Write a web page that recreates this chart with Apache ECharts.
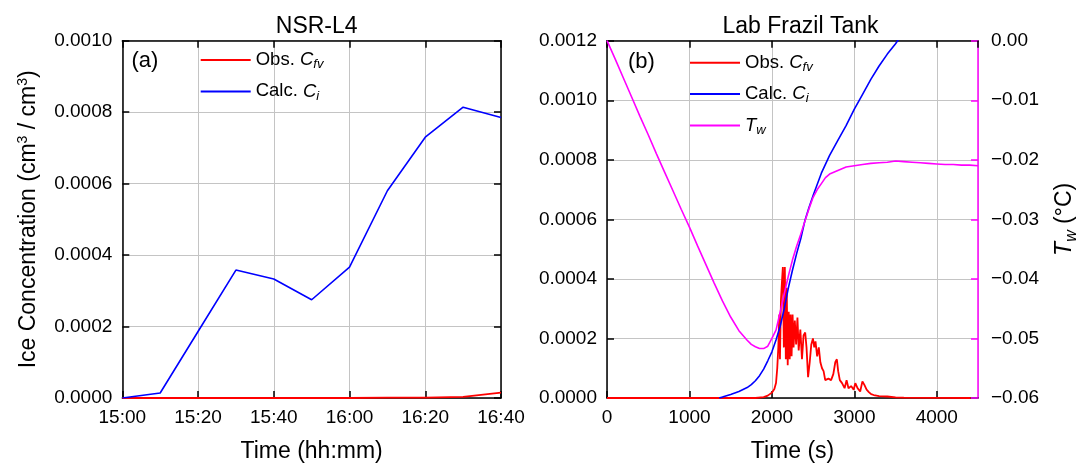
<!DOCTYPE html>
<html><head><meta charset="utf-8">
<script src="https://cdn.jsdelivr.net/npm/echarts@6/dist/echarts.min.js"></script>
<style>html,body{margin:0;padding:0;background:#fff}#c{width:1081px;height:468px}</style>
</head><body><div id="c"></div>
<script>
// ---------- Data: panel (a) NSR-L4 ----------
const leftTimes = ['15:00','15:10','15:20','15:30','15:40','15:50','16:00','16:10','16:20','16:30','16:40'];
const leftCalcCi = [0, 0.000014, 0.000186, 0.000358, 0.000333, 0.000275, 0.000366, 0.00058, 0.00073, 0.000814, 0.000785];
const leftObsCfv = [0, 0, 0, 0, 0, 0, 0, 0.000001, 0.000001, 0.000003, 0.000015];
const leftTickLabels = ['15:00','15:20','15:40','16:00','16:20','16:40'];

// ---------- Data: panel (b) Lab Frazil Tank ----------
const obsT = [0,1800,1900,1950,2000,2030,2050,2065,2078,2090,2098,2110,2122,2133,2145,2157,2169,2180,2192,2204,2216,2227,2239,2251,2263,2278,2294,2310,2325,2345,2365,2384,2404,2420,2439,2459,2478,2498,2514,2529,2549,2569,2588,2608,2627,2647,2667,2686,2718,2745,2769,2788,2804,2824,2851,2882,2906,2929,2961,2992,3012,3039,3071,3098,3122,3149,3176,3204,3235,3300,3400,3500,3600,4410];
const obsCfv = [0,0,0.000003,0.000008,0.000018,0.00003,0.00005,0.0001,0.00017,0.00028,0.00013,0.00033,0.00039,0.00044,0.00017,0.00044,0.00013,0.00037,0.00011,0.00029,0.00013,0.00028,0.00014,0.00028,0.00017,0.00026,0.00018,0.00027,0.00016,0.00023,0.00013,0.00021,0.00022,0.00017,0.00007,0.00012,0.00018,0.0002,0.00017,0.00019,0.00014,0.00017,0.00012,0.0001,0.00009,0.00006,0.000055,0.000065,0.00006,0.00008,0.00012,0.00013,0.00009,0.00006,0.00005,0.000033,0.00006,0.000033,0.00004,0.000028,0.00005,0.000033,0.000022,0.000056,0.000044,0.000028,0.00002,0.000013,0.00001,0.000006,0.000005,0.000002,0.000001,0];
const calcT = [1360,1400,1500,1600,1700,1750,1800,1850,1900,1950,2000,2050,2100,2150,2200,2250,2300,2350,2400,2450,2500,2600,2700,2800,2900,3000,3100,3200,3300,3400,3500,3600];
const calcCi = [0,0.000003,0.000012,0.000022,0.000035,0.000045,0.000058,0.000075,0.000097,0.000125,0.000155,0.000195,0.00024,0.0003,0.00037,0.00043,0.000485,0.000535,0.000595,0.00064,0.00068,0.000755,0.000815,0.000865,0.000915,0.00097,0.00102,0.00107,0.001115,0.001155,0.00119,0.00123];
const twT = [0,100,200,300,400,500,600,700,800,900,1000,1100,1200,1300,1400,1500,1600,1700,1750,1800,1850,1900,1950,2000,2050,2100,2150,2200,2250,2300,2350,2400,2450,2500,2550,2600,2650,2700,2800,2900,3000,3100,3200,3300,3400,3500,3600,3700,3800,3900,4000,4100,4200,4300,4400,4500];
const twVal = [0,-0.0031,-0.0063,-0.0095,-0.0127,-0.0158,-0.019,-0.0221,-0.0252,-0.0283,-0.0313,-0.0345,-0.0376,-0.0407,-0.0437,-0.0464,-0.0487,-0.0503,-0.051,-0.0514,-0.0517,-0.0517,-0.0513,-0.05,-0.0486,-0.0456,-0.0425,-0.0395,-0.0368,-0.0345,-0.0325,-0.0303,-0.0282,-0.0263,-0.025,-0.024,-0.023,-0.0224,-0.0218,-0.0212,-0.021,-0.0208,-0.0206,-0.0205,-0.0204,-0.0202,-0.0203,-0.0204,-0.0205,-0.0206,-0.0207,-0.0208,-0.0208,-0.0209,-0.0209,-0.021];

// ---------- helpers ----------
const FONT = "'Liberation Sans', Arial, sans-serif";
const toMin = s => { const [h, m] = s.split(':').map(Number); return (h - 15) * 60 + m; };
const pairs = (xs, ys) => xs.map((x, i) => [x, ys[i]]);
const RED = '#ff0000', BLUE = '#0000ff', MAG = '#ff00ff';
const GRID_COLOR = '#c4c4c4';

const richLegend = {
  n: { fontSize: 18.5, fontFamily: FONT, color: '#000' },
  i: { fontSize: 18.5, fontFamily: FONT, fontStyle: 'italic', color: '#000' },
  s: { fontSize: 13, fontFamily: FONT, fontStyle: 'italic', color: '#000', padding: [9, 0, 0, 0] }
};
const legendLabels = {
  'Obs. Cfv (a)': '{n|Obs. }{i|C}{s|fv}',
  'Calc. Ci (a)': '{n|Calc. }{i|C}{s|i}',
  'Obs. Cfv (b)': '{n|Obs. }{i|C}{s|fv}',
  'Calc. Ci (b)': '{n|Calc. }{i|C}{s|i}',
  'Tw (b)': '{i|T}{s|w}'
};

const tickStyle = { show: true, inside: true, length: 7, lineStyle: { color: '#000', width: 1.5 } };
const lineStyleAxis = { show: true, onZero: false, lineStyle: { color: '#000', width: 1.5 } };
const labelStyle = { fontSize: 19, fontFamily: FONT, color: '#000' };

const chart = echarts.init(document.getElementById('c'), null, { renderer: 'canvas' });
chart.setOption({
  animation: false,
  backgroundColor: '#fff',
  title: [
    { text: 'NSR-L4', left: 311.7, top: 10, textAlign: 'center', textStyle: { fontSize: 23, fontWeight: 'normal', fontFamily: FONT, color: '#000' } },
    { text: 'Lab Frazil Tank', left: 795.5, top: 10, textAlign: 'center', textStyle: { fontSize: 23, fontWeight: 'normal', fontFamily: FONT, color: '#000' } }
  ],
  grid: [
    { left: 122.3, top: 40.7, width: 378.7, height: 360, containLabel: false },
    { left: 607, top: 40.7, width: 377, height: 360, containLabel: false }
  ],
  legend: [
    { orient: 'vertical', left: 200.7, top: 49, padding: 0, itemWidth: 50, itemHeight: 2, itemGap: 9.4, icon: 'rect',
      data: ['Obs. Cfv (a)', 'Calc. Ci (a)'], formatter: n => legendLabels[n],
      textStyle: { rich: richLegend, lineHeight: 22 }, selectedMode: false },
    { orient: 'vertical', left: 690, top: 51.7, padding: 0, itemWidth: 50, itemHeight: 2, itemGap: 9.4, icon: 'rect',
      data: ['Obs. Cfv (b)', 'Calc. Ci (b)', 'Tw (b)'], formatter: n => legendLabels[n],
      textStyle: { rich: richLegend, lineHeight: 22 }, selectedMode: false }
  ],
  graphic: [
    { type: 'text', left: 131.5, top: 50, style: { text: '(a)', font: "22px 'Liberation Sans', Arial", fill: '#000' } },
    { type: 'text', left: 628, top: 51, style: { text: '(b)', font: "22px 'Liberation Sans', Arial", fill: '#000' } }
  ],
  xAxis: [
    { gridIndex: 0, type: 'value', min: 0, max: 100, interval: 20, position: 'bottom',
      axisLine: lineStyleAxis, axisTick: tickStyle,
      axisLabel: { ...labelStyle, margin: 10, formatter: v => leftTickLabels[Math.round(v / 20)] },
      splitLine: { show: true, lineStyle: { color: GRID_COLOR, width: 1 } },
      name: 'Time (hh:mm)', nameLocation: 'middle', nameGap: 42,
      nameTextStyle: { fontSize: 23, fontFamily: FONT, color: '#000' } },
    { gridIndex: 0, type: 'value', min: 0, max: 100, interval: 20, position: 'top',
      axisLine: lineStyleAxis, axisTick: tickStyle, axisLabel: { show: false }, splitLine: { show: false } },
    { gridIndex: 1, type: 'value', min: 0, max: 4500, interval: 1000, position: 'bottom',
      axisLine: lineStyleAxis, axisTick: tickStyle,
      axisLabel: { ...labelStyle, margin: 10, showMaxLabel: false, formatter: v => String(v) },
      splitLine: { show: true, lineStyle: { color: GRID_COLOR, width: 1 } },
      name: 'Time (s)', nameLocation: 'middle', nameGap: 42,
      nameTextStyle: { fontSize: 23, fontFamily: FONT, color: '#000' } },
    { gridIndex: 1, type: 'value', min: 0, max: 4500, interval: 1000, position: 'top',
      axisLine: lineStyleAxis, axisTick: tickStyle, axisLabel: { show: false }, splitLine: { show: false } }
  ],
  yAxis: [
    { gridIndex: 0, type: 'value', min: 0, max: 0.001, interval: 0.0002, position: 'left',
      axisLine: lineStyleAxis, axisTick: tickStyle,
      axisLabel: { ...labelStyle, margin: 10, formatter: v => v.toFixed(4) },
      splitLine: { show: true, lineStyle: { color: GRID_COLOR, width: 1 } },
      name: '{t|Ice Concentration (cm}{p|3}{t| / cm}{p|3}{t|)}', nameLocation: 'middle', nameGap: 82, nameRotate: 90,
      nameTextStyle: { rich: { t: { fontSize: 23, fontFamily: FONT, color: '#000' }, p: { fontSize: 14, fontFamily: FONT, color: '#000', padding: [0, 0, 10, 0] } } } },
    { gridIndex: 0, type: 'value', min: 0, max: 0.001, interval: 0.0002, position: 'right',
      axisLine: lineStyleAxis, axisTick: tickStyle, axisLabel: { show: false }, splitLine: { show: false } },
    { gridIndex: 1, type: 'value', min: 0, max: 0.0012, interval: 0.0002, position: 'left',
      axisLine: lineStyleAxis, axisTick: tickStyle,
      axisLabel: { ...labelStyle, margin: 10, formatter: v => v.toFixed(4) },
      splitLine: { show: true, lineStyle: { color: GRID_COLOR, width: 1 } } },
    { gridIndex: 1, type: 'value', min: -0.06, max: 0, interval: 0.01, position: 'right',
      axisLine: { show: true, onZero: false, lineStyle: { color: MAG, width: 1.5 } },
      axisTick: { show: true, inside: true, length: 7, lineStyle: { color: MAG, width: 1.5 } },
      axisLabel: { ...labelStyle, margin: 13, formatter: v => Math.abs(v) < 1e-9 ? '0.00' : '\u2212' + Math.abs(v).toFixed(2) },
      splitLine: { show: false },
      name: '{i|T}{s|w}{t| (°C)}', nameLocation: 'middle', nameGap: 72, nameRotate: 90,
      nameTextStyle: { rich: {
        t: { fontSize: 23, fontFamily: FONT, color: '#000', verticalAlign: 'middle' },
        i: { fontSize: 23, fontFamily: FONT, fontStyle: 'italic', color: '#000', verticalAlign: 'middle' },
        s: { fontSize: 16, fontFamily: FONT, fontStyle: 'italic', color: '#000', verticalAlign: 'middle', padding: [14, 0, 0, 0] } } } }
  ],
  series: [
    { name: 'Obs. Cfv (a)', type: 'line', xAxisIndex: 0, yAxisIndex: 0, showSymbol: false, symbol: 'none',
      data: pairs(leftTimes.map(toMin), leftObsCfv), lineStyle: { color: RED, width: 1.8 }, itemStyle: { color: RED }, z: 3 },
    { name: 'Calc. Ci (a)', type: 'line', xAxisIndex: 0, yAxisIndex: 0, showSymbol: false, symbol: 'none',
      data: pairs(leftTimes.map(toMin), leftCalcCi), lineStyle: { color: BLUE, width: 1.6 }, itemStyle: { color: BLUE }, z: 4 },
    { name: 'Obs. Cfv (b)', type: 'line', xAxisIndex: 2, yAxisIndex: 2, showSymbol: false, symbol: 'none',
      data: pairs(obsT, obsCfv), lineStyle: { color: RED, width: 1.8 }, itemStyle: { color: RED }, z: 3 },
    { name: 'Calc. Ci (b)', type: 'line', xAxisIndex: 2, yAxisIndex: 2, showSymbol: false, symbol: 'none',
      data: pairs(calcT, calcCi), lineStyle: { color: BLUE, width: 1.6 }, itemStyle: { color: BLUE }, z: 4 },
    { name: 'Tw (b)', type: 'line', xAxisIndex: 2, yAxisIndex: 3, showSymbol: false, symbol: 'none',
      data: pairs(twT, twVal), lineStyle: { color: MAG, width: 1.6 }, itemStyle: { color: MAG }, z: 5 }
  ]
});
</script></body></html>
